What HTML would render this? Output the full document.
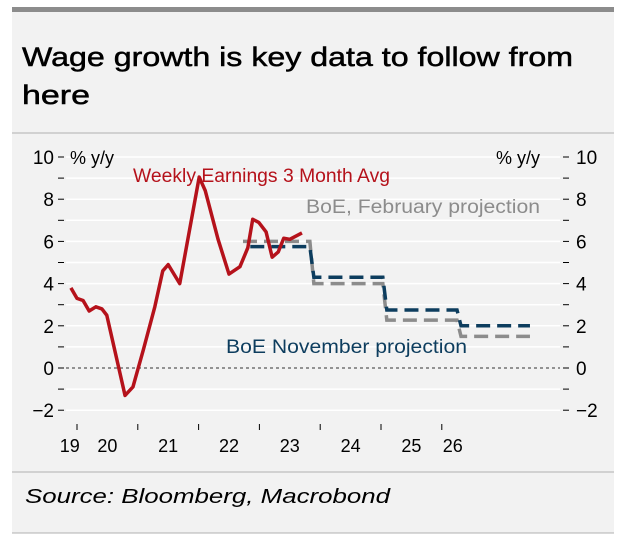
<!DOCTYPE html>
<html><head><meta charset="utf-8"><style>
body{margin:0;background:#fff;}
svg{display:block;font-family:"Liberation Sans",sans-serif;}
</style></head><body>
<svg width="628" height="549" viewBox="0 0 628 549" id="chart">
<rect x="12" y="12" width="602" height="521" fill="#f2f2f2"/>
<rect x="12" y="7" width="602" height="5" fill="#8c8c8c"/>
<text x="22" y="66" font-size="27" stroke="#000" stroke-width="0.5" fill="#000" textLength="551" lengthAdjust="spacingAndGlyphs">Wage growth is key data to follow from</text>
<text x="22" y="104" font-size="27" stroke="#000" stroke-width="0.5" fill="#000" textLength="68" lengthAdjust="spacingAndGlyphs">here</text>
<line x1="12" y1="133" x2="614" y2="133" stroke="#b0b0b0" stroke-width="1"/>
<line x1="12" y1="472" x2="614" y2="472" stroke="#b0b0b0" stroke-width="1"/>
<line x1="12" y1="533" x2="614" y2="533" stroke="#b0b0b0" stroke-width="1"/>
<text x="25" y="503" font-size="20" font-style="italic" fill="#000" textLength="365" lengthAdjust="spacingAndGlyphs">Source: Bloomberg, Macrobond</text>
<g id="grid"></g>
<g id="axes"></g>
<g id="series"></g>
<text x="70" y="164" font-size="18" fill="#000">% y/y</text>
<text x="496" y="164" font-size="18" fill="#000">% y/y</text>
<text x="133" y="182" font-size="19" fill="#b5121b" textLength="257" lengthAdjust="spacingAndGlyphs">Weekly Earnings 3 Month Avg</text>
<text x="306" y="213" font-size="19" fill="#8c8c8c" textLength="234" lengthAdjust="spacingAndGlyphs">BoE, February projection</text>
<text x="226" y="353" font-size="19" fill="#0d3d5e" textLength="241" lengthAdjust="spacingAndGlyphs">BoE November projection</text>
</svg>
<script>
const yTicks=[-2,0,2,4,6,8,10];
const yMinor=[-1,1,3,5,7,9];
const xTickYears=[2019,2020,2021,2022,2023,2024,2025];
const xLabels=["19","20","21","22","23","24","25","26"];
const xLabelPos=[2018.88,2019.5,2020.5,2021.5,2022.5,2023.5,2024.5,2025.18];
const earnT=[2018.90,2019.0,2019.10,2019.20,2019.31,2019.41,2019.49,2019.79,2019.92,2020.09,2020.28,2020.41,2020.50,2020.69,2021.01,2021.11,2021.32,2021.50,2021.68,2021.81,2021.89,2021.99,2022.11,2022.21,2022.31,2022.40,2022.50,2022.70];
const earnV=[3.8,3.3,3.2,2.7,2.9,2.8,2.5,-1.3,-0.9,0.85,2.9,4.6,4.9,4.0,9.05,8.4,6.1,4.45,4.8,5.7,7.05,6.9,6.45,5.25,5.5,6.15,6.1,6.4];
const novT=[2021.85,2022.83,2024.03,2025.25,2026.45];
const novV=[5.75,4.3,2.75,2.0];
const febT=[2021.73,2022.83,2024.03,2025.25,2026.45];
const febV=[6.0,4.0,2.27,1.5];
const NS="http://www.w3.org/2000/svg";
const X=t=>77+(t-2019)*60.8;
const Y=v=>368-v*21.1;
function mk(tag,attrs,parent){const e=document.createElementNS(NS,tag);for(const k in attrs)e.setAttribute(k,attrs[k]);document.getElementById(parent).appendChild(e);return e;}
[...yTicks,...yMinor].forEach(v=>{
  if(v!==0){const g=mk('line',{x1:66,x2:560,y1:Y(v),y2:Y(v),stroke:'#fff','stroke-width':1.5},'grid');
  
  }
  const a=mk('line',{x1:58,x2:64,y1:Y(v),y2:Y(v),stroke:'#000','stroke-width':1},'axes');
  
  
  const b=mk('line',{x1:563,x2:569,y1:Y(v),y2:Y(v),stroke:'#000','stroke-width':1},'axes');
  
  
});
const z=mk('line',{x1:66,x2:560,y1:Y(0),y2:Y(0),stroke:'#333','stroke-width':1,'stroke-dasharray':'3,3'},'grid');


yTicks.forEach(v=>{
  const l=mk('text',{x:54,y:Y(v)+7,'font-size':19,'text-anchor':'end',fill:'#000'},'axes');
  l.textContent=v<0?'\u2212'+(-v):String(v);
  
  
  const r=mk('text',{x:576,y:Y(v)+7,'font-size':19,fill:'#000'},'axes');
  r.textContent=v<0?'\u2212'+(-v):String(v);
  
  
});
xTickYears.forEach(t=>{
  const e=mk('line',{x1:X(t),x2:X(t),y1:424,y2:430,stroke:'#000','stroke-width':1},'axes');
  
  
});
xLabels.forEach((s,i)=>{
  const e=mk('text',{x:X(xLabelPos[i]),y:452,'font-size':18,'text-anchor':'middle',fill:'#000'},'axes');
  e.textContent=s;
  
  
});
function stepPath(T,V){let d='M'+X(T[0])+','+Y(V[0]);for(let i=0;i<V.length;i++){d+=' L'+X(T[i+1])+','+Y(V[i]);if(i+1<V.length)d+=' L'+(X(T[i+1])+4)+','+Y(V[i+1]);}return d;}
const f=mk('path',{d:stepPath(febT,febV),fill:'none',stroke:'#8c8c8c','stroke-width':3.5,'stroke-dasharray':'14,7'},'series');


const n=mk('path',{d:stepPath(novT,novV),fill:'none',stroke:'#0d3d5e','stroke-width':3.5,'stroke-dasharray':'14,7'},'series');


const r=mk('path',{d:earnT.map((t,i)=>(i?'L':'M')+X(t)+','+Y(earnV[i])).join(' '),fill:'none',stroke:'#b5121b','stroke-width':3.5,'stroke-linejoin':'round'},'series');


</script>
</body></html>
